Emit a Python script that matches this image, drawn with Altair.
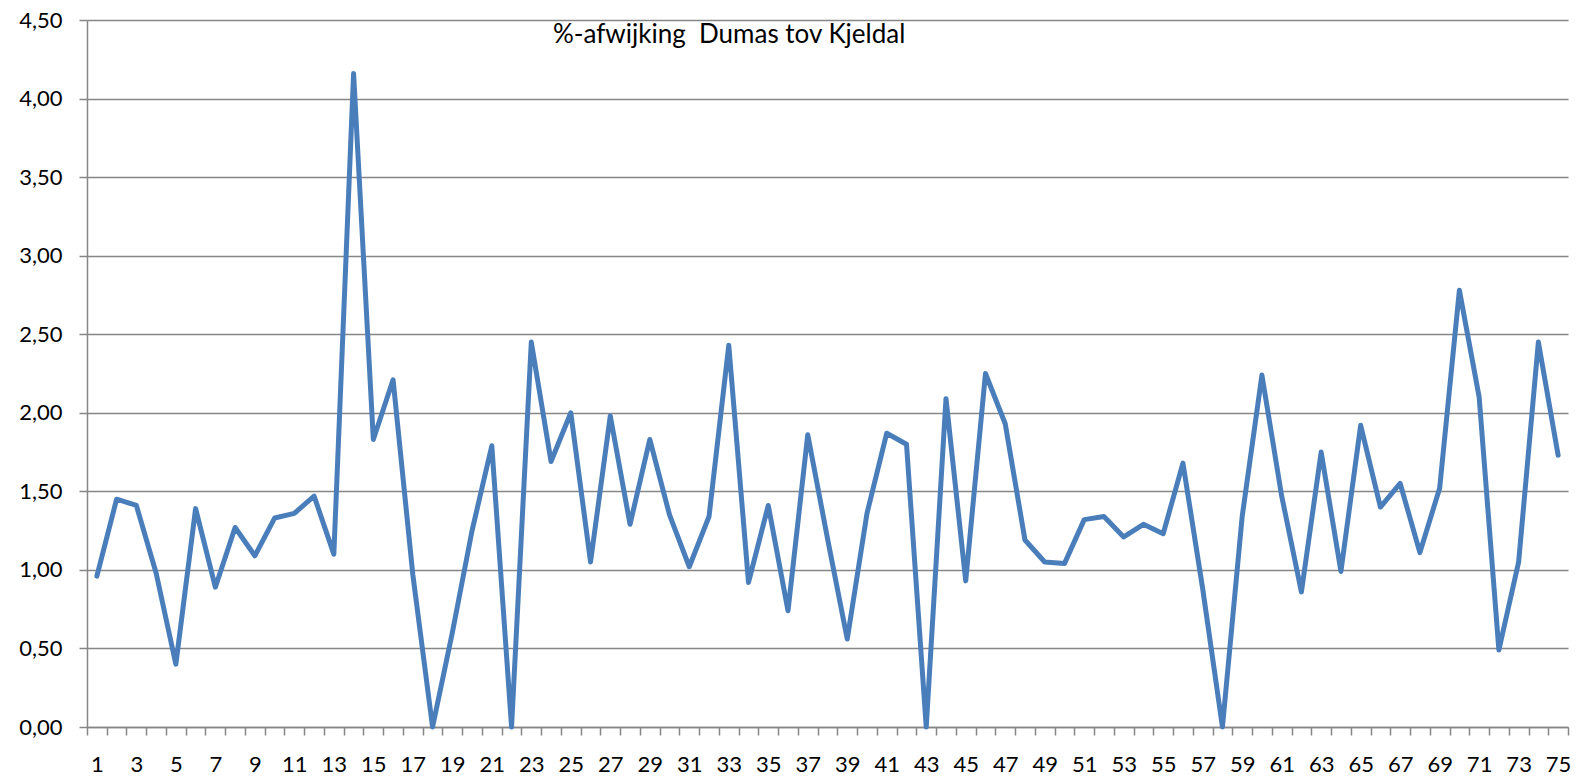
import altair as alt
import pandas as pd

# sample numbers (categories)
samples = list(range(1, 76))

# %-afwijking Dumas tov Kjeldal
values = [
    0.96, 1.45, 1.41, 0.98, 0.40, 1.39, 0.89, 1.27, 1.09, 1.33,
    1.36, 1.47, 1.10, 4.16, 1.83, 2.21, 0.97, 0.00, 0.60, 1.25,
    1.79, 0.00, 2.45, 1.69, 2.00, 1.05, 1.98, 1.29, 1.83, 1.35,
    1.02, 1.34, 2.43, 0.92, 1.41, 0.74, 1.86, 1.20, 0.56, 1.36,
    1.87, 1.80, 0.00, 2.09, 0.93, 2.25, 1.93, 1.19, 1.05, 1.04,
    1.32, 1.34, 1.21, 1.29, 1.23, 1.68, 0.88, 0.00, 1.34, 2.24,
    1.47, 0.86, 1.75, 0.99, 1.92, 1.40, 1.55, 1.11, 1.52, 2.78,
    2.10, 0.49, 1.05, 2.45, 1.73,
]

y_ticks = [0.0, 0.5, 1.0, 1.5, 2.0, 2.5, 3.0, 3.5, 4.0, 4.5]
# x axis: boundaries between categories get tick marks, integers get labels
x_axis_values = sorted([i + 0.5 for i in range(0, 76)] + samples)

title_text = "%-afwijking\u00a0 Dumas tov Kjeldal"

df = pd.DataFrame({"n": samples, "v": values})

FONT = "Lato"
GRID = "#868686"
FS = 22

chart = (
    alt.Chart(df)
    .mark_line(color="#4a7ebb", strokeWidth=5, strokeJoin="round", strokeCap="round")
    .encode(
        x=alt.X(
            "n:Q",
            scale=alt.Scale(domain=[0.5, 75.5], nice=False, zero=False),
            axis=alt.Axis(
                title=None,
                values=x_axis_values,
                grid=False,
                tickSize=8,
                tickColor=GRID,
                tickWidth=1.5,
                tickOpacity={"condition": {"test": "datum.value % 1 != 0", "value": 1}, "value": 0},
                domainColor=GRID,
                domainWidth=1.5,
                labelExpr="datum.value % 2 == 1 ? format(datum.value, 'd') : ''",
                labelOverlap=False,
                labelFlush=False,
                labelPadding=19,
                labelFont=FONT,
                labelFontSize=FS,
                labelColor="#000000",
            ),
        ),
        y=alt.Y(
            "v:Q",
            scale=alt.Scale(domain=[0, 4.5], nice=False),
            axis=alt.Axis(
                title=None,
                values=y_ticks,
                grid=True,
                gridColor=GRID,
                gridWidth=1.5,
                tickSize=8,
                tickColor=GRID,
                tickWidth=1.5,
                domainColor=GRID,
                domainWidth=1.5,
                labelExpr="replace(format(datum.value, '.2f'), '.', ',')",
                labelPadding=17,
                labelFont=FONT,
                labelFontSize=FS,
                labelColor="#000000",
            ),
        ),
    )
    .properties(
        width=1481,
        height=707,
        padding={"left": 79, "top": 12, "right": 4, "bottom": 49},
        autosize=alt.AutoSizeParams(type="none"),
        title=alt.Title(
            title_text,
            anchor="start",
            frame="group",
            orient="top",
            offset=-60,
            dx=466,
            baseline="alphabetic",
            font=FONT,
            fontSize=26,
            fontWeight="normal",
            color="#000000",
        ),
    )
    .configure_view(stroke=None)
)

chart.save("out.html", embed_options={"renderer": "svg", "actions": False})
